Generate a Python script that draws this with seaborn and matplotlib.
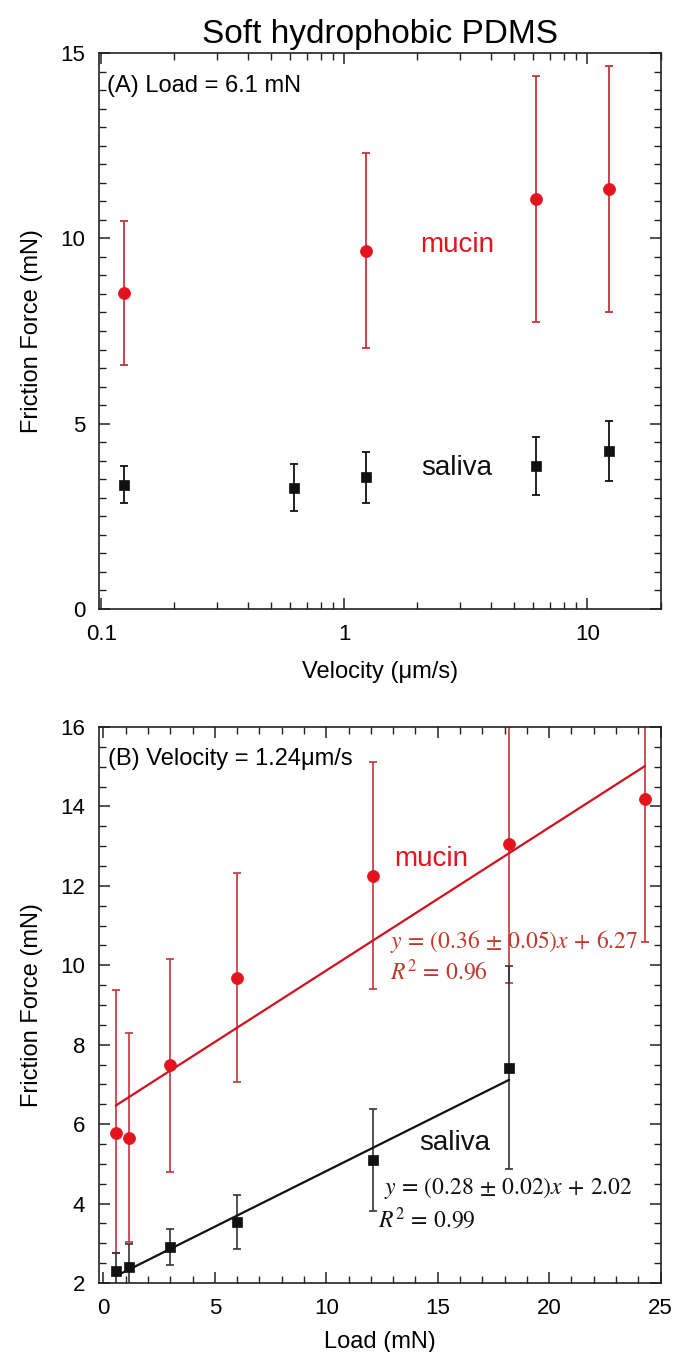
import numpy as np
import pandas as pd
import matplotlib
matplotlib.use("Agg")
import matplotlib.pyplot as plt
import seaborn as sns
from matplotlib.ticker import MultipleLocator, LogLocator, NullFormatter

# Panel A: friction vs velocity at load 6.1 mN
vel_mucin = [0.124, 1.23, 6.12, 12.3]
force_mucin_a = [8.52, 9.66, 11.06, 11.33]
err_mucin_a = [1.95, 2.63, 3.32, 3.33]

vel_saliva = [0.124, 0.62, 1.23, 6.12, 12.3]
force_saliva_a = [3.35, 3.27, 3.55, 3.86, 4.26]
err_saliva_a = [0.50, 0.63, 0.68, 0.78, 0.82]

# Panel B: friction vs load at velocity 1.24 um/s
load_mucin = [0.55, 1.15, 3.0, 6.0, 12.1, 18.2, 24.3]
force_mucin_b = [5.78, 5.65, 7.49, 9.68, 12.25, 13.06, 14.19]
err_mucin_b_lo = [3.02, 2.62, 2.69, 2.62, 2.85, 3.50, 3.60]
err_mucin_b_hi = [3.60, 2.65, 2.68, 2.65, 2.88, 3.50, 3.60]

load_saliva = [0.55, 1.15, 3.0, 6.0, 12.1, 18.2]
force_saliva_b = [2.30, 2.41, 2.91, 3.54, 5.10, 7.42]
err_saliva_b = [0.46, 0.57, 0.46, 0.68, 1.28, 2.55]

# linear fits quoted on the figure
fit_mucin = (0.36, 6.27)
fit_saliva = (0.28, 2.02)

RED = "#e3141e"
RED_BAR = "#c8323c"
RED_TXT = "#c0392b"
BLACK = "#111111"

sns.set_theme(style="ticks")
plt.rcParams['font.family'] = ['Liberation Sans', 'DejaVu Sans']
plt.rcParams['mathtext.fontset'] = 'stix'
plt.rcParams['text.color'] = 'black'
plt.rcParams['axes.labelcolor'] = 'black'

fig = plt.figure(figsize=(6.75, 13.52), dpi=100)
ax_a = fig.add_axes([0.1467, 0.5496, 0.832, 0.4112])
ax_b = fig.add_axes([0.1467, 0.0510, 0.832, 0.4113])


def style_axes(ax):
    for s in ax.spines.values():
        s.set_linewidth(1.2)
        s.set_color("#222222")
    ax.tick_params(which="both", direction="in", top=True, right=True,
                   colors="#222222", labelcolor="black", labelsize=16)
    ax.tick_params(which="major", length=8, width=1.1)
    ax.tick_params(which="minor", length=5, width=1.0)
    ax.tick_params(axis="x", which="major", pad=11)
    ax.tick_params(axis="y", which="major", pad=10)
    ax.grid(False)


# ---------- Panel A ----------
df_am = pd.DataFrame({"v": vel_mucin, "f": force_mucin_a})
df_as = pd.DataFrame({"v": vel_saliva, "f": force_saliva_a})
ax_a.errorbar(vel_mucin, force_mucin_a, yerr=err_mucin_a, fmt="none",
              ecolor=RED_BAR, elinewidth=1.3, capsize=3, capthick=1.3)
ax_a.errorbar(vel_saliva, force_saliva_a, yerr=err_saliva_a, fmt="none",
              ecolor=BLACK, elinewidth=1.3, capsize=3, capthick=1.3)
sns.scatterplot(data=df_am, x="v", y="f", ax=ax_a, marker="o", s=75,
                color=RED, edgecolor=RED, linewidth=0.5, zorder=3)
sns.scatterplot(data=df_as, x="v", y="f", ax=ax_a, marker="s", s=60,
                color=BLACK, edgecolor=BLACK, linewidth=0.5, zorder=3)
ax_a.set_xscale("log")
ax_a.set_xlim(0.098, 20)
ax_a.set_ylim(0, 15)
ax_a.set_xticks([0.1, 1, 10])
ax_a.set_xticklabels(["0.1", "1", "10"])
ax_a.xaxis.set_minor_locator(LogLocator(base=10, subs=np.arange(2, 10)))
ax_a.xaxis.set_minor_formatter(NullFormatter())
ax_a.yaxis.set_major_locator(MultipleLocator(5))
ax_a.yaxis.set_minor_locator(MultipleLocator(0.5))
style_axes(ax_a)
ax_a.set_xlabel("Velocity (\u03bcm/s)", fontsize=17)
ax_a.set_ylabel("Friction Force (mN)", fontsize=17)
ax_a.xaxis.set_label_coords(0.5, -0.093)
ax_a.yaxis.set_label_coords(-0.10, 0.5)
ax_a.set_title("Soft hydrophobic PDMS", fontsize=24, pad=7)
ax_a.text(0.106, 14.1, "(A) Load = 6.1 mN", fontsize=17, va="center", ha="left")
ax_a.text(2.9, 9.82, "mucin", fontsize=20, color=RED, ha="center", va="center")
ax_a.text(2.9, 3.8, "saliva", fontsize=20, color=BLACK, ha="center", va="center")

# ---------- Panel B ----------
df_bm = pd.DataFrame({"x": load_mucin, "f": force_mucin_b})
df_bs = pd.DataFrame({"x": load_saliva, "f": force_saliva_b})
ax_b.errorbar(load_mucin, force_mucin_b, yerr=[err_mucin_b_lo, err_mucin_b_hi],
              fmt="none", ecolor=RED_BAR, elinewidth=1.2, capsize=3, capthick=1.2)
ax_b.errorbar(load_saliva, force_saliva_b, yerr=err_saliva_b, fmt="none",
              ecolor="#333333", elinewidth=1.2, capsize=3, capthick=1.2)

xm = np.array([load_mucin[0], load_mucin[-1]])
xs = np.array([load_saliva[0], load_saliva[-1]])
sns.lineplot(x=xm, y=fit_mucin[0] * xm + fit_mucin[1], ax=ax_b, color="#d0101c", linewidth=1.6)
sns.lineplot(x=xs, y=fit_saliva[0] * xs + fit_saliva[1], ax=ax_b, color=BLACK, linewidth=1.6)

sns.scatterplot(data=df_bm, x="x", y="f", ax=ax_b, marker="o", s=75,
                color=RED, edgecolor=RED, linewidth=0.5, zorder=3)
sns.scatterplot(data=df_bs, x="x", y="f", ax=ax_b, marker="s", s=60,
                color=BLACK, edgecolor=BLACK, linewidth=0.5, zorder=3)
ax_b.set_xlim(-0.2, 25)
ax_b.set_ylim(2, 16)
ax_b.xaxis.set_major_locator(MultipleLocator(5))
ax_b.xaxis.set_minor_locator(MultipleLocator(1))
ax_b.yaxis.set_major_locator(MultipleLocator(2))
ax_b.yaxis.set_minor_locator(MultipleLocator(0.5))
style_axes(ax_b)
ax_b.set_xlabel("Load (mN)", fontsize=17)
ax_b.set_ylabel("Friction Force (mN)", fontsize=17)
ax_b.xaxis.set_label_coords(0.5, -0.086)
ax_b.yaxis.set_label_coords(-0.10, 0.5)
ax_b.text(0.2, 15.2, "(B) Velocity = 1.24\u03bcm/s", fontsize=17, va="center", ha="left")
ax_b.text(14.7, 12.68, "mucin", fontsize=20, color=RED, ha="center", va="center")
ax_b.text(15.75, 5.52, "saliva", fontsize=20, color=BLACK, ha="center", va="center")

ax_b.text(12.85, 10.59, r"$y\,=\,(0.36\,\pm\,0.05)x\,+\,6.27$", fontsize=17,
          color=RED_TXT, ha="left", va="center")
ax_b.text(12.85, 9.83, r"$R^2\,=\,0.96$", fontsize=17, color=RED_TXT, ha="left", va="center")
ax_b.text(12.6, 4.39, r"$y\,=\,(0.28\,\pm\,0.02)x\,+\,2.02$", fontsize=17,
          color=BLACK, ha="left", va="center")
ax_b.text(12.3, 3.59, r"$R^2\,=\,0.99$", fontsize=17, color=BLACK, ha="left", va="center")

fig.savefig("out.png", dpi=100)
